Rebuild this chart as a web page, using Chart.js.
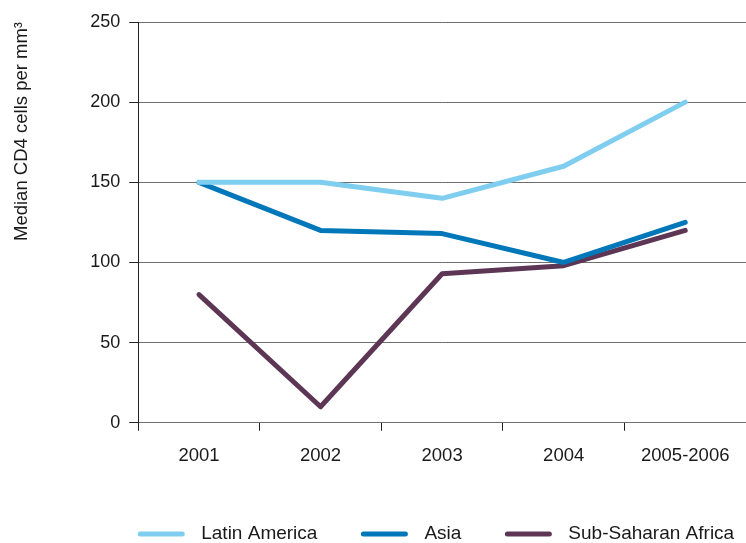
<!DOCTYPE html>
<html>
<head>
<meta charset="utf-8">
<script src="https://cdn.jsdelivr.net/npm/chart.js@4"></script>
<style>
  html, body { margin: 0; padding: 0; background: #fff; }
  #wrap { width: 746px; height: 543px; }
</style>
</head>
<body>
<div id="wrap"><canvas id="cd4Chart"></canvas></div>
<script>
// Median CD4 count at start of treatment, by region
const years = ["2001", "2002", "2003", "2004", "2005-2006"];
const latinAmerica = [150, 150, 140, 160, 200];
const asia = [150, 120, 118, 100, 125];
const subSaharanAfrica = [80, 10, 93, 98, 120];
const yTicks = [0, 50, 100, 150, 200, 250];

Chart.defaults.font.family = "'Liberation Sans', Arial, sans-serif";
Chart.defaults.font.size = 18;
Chart.defaults.color = "#1a1a1a";

const gridColor = "#6e6e6e";

// legend drawn in one row under the plot, starting at the y axis
const bottomLegend = {
    id: "bottomLegend",
    afterDraw(chart) {
        const c = chart.ctx;
        const y = 534;
        let x = chart.chartArea.left;
        c.save();
        c.font = "19px 'Liberation Sans', Arial, sans-serif";
        c.textBaseline = "middle";
        c.fillStyle = "#1a1a1a";
        chart.data.datasets.forEach(ds => {
            c.strokeStyle = ds.borderColor;
            c.lineWidth = 5;
            c.lineCap = "round";
            c.beginPath();
            c.moveTo(x + 2, y);
            c.lineTo(x + 44, y);
            c.stroke();
            x += 63;
            c.fillText(ds.label, x, y);
            x += c.measureText(ds.label).width + 44;
        });
        c.restore();
    }
};

const ctx = document.getElementById("cd4Chart").getContext("2d");

const cd4Chart = new Chart(ctx, {
    type: "line",
    data: {
        labels: years,
        datasets: [
            {
                label: "Latin America",
                data: latinAmerica,
                borderColor: "#7fcdef",
                backgroundColor: "#7fcdef",
                borderWidth: 5
            },
            {
                label: "Asia",
                data: asia,
                borderColor: "#0077b8",
                backgroundColor: "#0077b8",
                borderWidth: 5
            },
            {
                label: "Sub-Saharan Africa",
                data: subSaharanAfrica,
                borderColor: "#5d3656",
                backgroundColor: "#5d3656",
                borderWidth: 5
            }
        ]
    },
    options: {
        responsive: true,
        maintainAspectRatio: false,
        animation: false,
        layout: {
            padding: { top: 22, right: 0, bottom: 62, left: 0 }
        },
        elements: {
            point: { radius: 0, hoverRadius: 0 },
            line: { tension: 0, borderCapStyle: "round", borderJoinStyle: "round" }
        },
        scales: {
            x: {
                offset: true,
                grid: {
                    offset: true,
                    drawOnChartArea: false,
                    drawTicks: true,
                    tickLength: 8,
                    color: "#222"
                },
                border: { display: true, color: gridColor, width: 1 },
                ticks: { padding: 14, maxRotation: 0, autoSkip: false, font: { size: 18.5 } }
            },
            y: {
                min: 0,
                max: 250,
                afterBuildTicks: (axis) => {
                    axis.ticks = yTicks.map(v => ({ value: v }));
                },
                grid: {
                    color: gridColor,
                    tickLength: 9,
                    tickColor: "#222"
                },
                border: { display: true, color: "#222", width: 1 },
                ticks: { padding: 9 },
                title: {
                    display: true,
                    text: "Median CD4 cells per mm³",
                    align: "end",
                    font: { size: 18.5 },
                    padding: { top: 11, bottom: 48 }
                }
            }
        },
        plugins: {
            legend: { display: false },
            tooltip: { enabled: false }
        }
    },
    plugins: [bottomLegend]
});
</script>
</body>
</html>
